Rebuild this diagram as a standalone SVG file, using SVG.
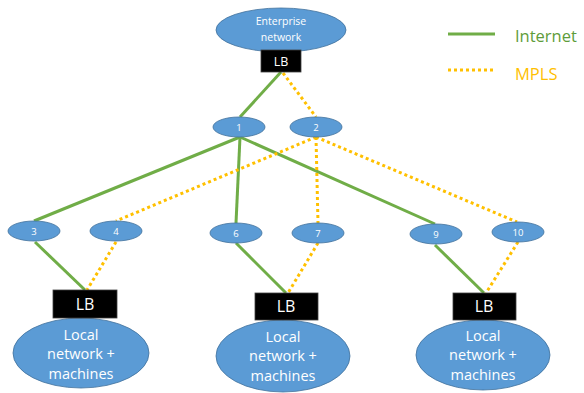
<svg xmlns="http://www.w3.org/2000/svg" width="584" height="393" viewBox="0 0 584 393">
<style>
.ell{fill:#5B9BD5;stroke:#41719C;stroke-width:0.8}
.lb{fill:#000;stroke:#404040;stroke-width:0.8}
.t{font-family:"Open Sans","Liberation Sans",sans-serif;fill:#fff;text-anchor:middle;dominant-baseline:central}
.inet{stroke:#70AD47;stroke-width:3;fill:none}
.mpls{stroke:#FFC000;stroke-width:3;fill:none;stroke-dasharray:3 3}
.leg{font-family:"Open Sans","Liberation Sans",sans-serif;font-size:16.5px;dominant-baseline:central}
</style>
<rect width="584" height="393" fill="#fff"/>
<g id="connectors">
<line class="inet" x1="281" y1="72" x2="240" y2="117"/>
<line class="mpls" x1="283" y1="73" x2="316" y2="117"/>
<line class="inet" x1="240" y1="137" x2="34" y2="221"/>
<line class="inet" x1="240" y1="137" x2="236" y2="223"/>
<line class="inet" x1="240" y1="137" x2="435" y2="224"/>
<line class="mpls" x1="316" y1="137" x2="116" y2="221"/>
<line class="mpls" x1="316" y1="137" x2="318" y2="223"/>
<line class="mpls" x1="316" y1="137" x2="517" y2="222"/>
<line class="inet" x1="35" y1="242" x2="85" y2="290"/>
<line class="mpls" x1="116" y1="242" x2="87" y2="290"/>
<line class="inet" x1="236" y1="243" x2="286" y2="293"/>
<line class="mpls" x1="318" y1="243" x2="288" y2="293"/>
<line class="inet" x1="435" y1="245" x2="484" y2="293"/>
<line class="mpls" x1="518" y1="242" x2="486" y2="293"/>
</g>
<g id="enterprise">
<ellipse class="ell" cx="281" cy="30" rx="65" ry="22"/>
<text class="t" x="281" y="21" font-size="10.5">Enterprise</text>
<text class="t" x="281" y="37" font-size="10.5">network</text>
</g>
<g id="lb-top">
<rect class="lb" x="261" y="50" width="40" height="22"/>
<text class="t" x="281" y="61" font-size="12.5">LB</text>
</g>
<g id="n1"><ellipse class="ell" cx="239" cy="127" rx="26" ry="10"/><text class="t" x="239" y="127" font-size="9.5">1</text></g>
<g id="n2"><ellipse class="ell" cx="316" cy="127" rx="26" ry="10"/><text class="t" x="316" y="127" font-size="9.5">2</text></g>
<g id="n3"><ellipse class="ell" cx="34" cy="231" rx="26" ry="10"/><text class="t" x="34" y="231" font-size="9.5">3</text></g>
<g id="n4"><ellipse class="ell" cx="116" cy="231" rx="26" ry="10"/><text class="t" x="116" y="231" font-size="9.5">4</text></g>
<g id="n6"><ellipse class="ell" cx="236" cy="233" rx="26" ry="10"/><text class="t" x="236" y="233" font-size="9.5">6</text></g>
<g id="n7"><ellipse class="ell" cx="318" cy="233" rx="26" ry="10"/><text class="t" x="318" y="233" font-size="9.5">7</text></g>
<g id="n9"><ellipse class="ell" cx="436" cy="234" rx="26" ry="10"/><text class="t" x="436" y="234" font-size="9.5">9</text></g>
<g id="n10"><ellipse class="ell" cx="518" cy="232" rx="26" ry="10"/><text class="t" x="518" y="232" font-size="9.5">10</text></g>
<g id="local-left">
<ellipse class="ell" cx="81" cy="353" rx="68" ry="35"/>
<text class="t" x="81" y="334" font-size="14.5">Local</text>
<text class="t" x="81" y="353" font-size="14.5">network +</text>
<text class="t" x="81" y="373" font-size="14.5">machines</text>
</g>
<g id="lb-left"><rect class="lb" x="53" y="290" width="64" height="28"/><text class="t" x="85" y="304" font-size="16">LB</text></g>
<g id="local-mid">
<ellipse class="ell" cx="283" cy="356" rx="67" ry="36"/>
<text class="t" x="283" y="336" font-size="14.5">Local</text>
<text class="t" x="283" y="355" font-size="14.5">network +</text>
<text class="t" x="283" y="375" font-size="14.5">machines</text>
</g>
<g id="lb-mid"><rect class="lb" x="255" y="293" width="63" height="27"/><text class="t" x="286" y="306" font-size="16">LB</text></g>
<g id="local-right">
<ellipse class="ell" cx="483" cy="355" rx="67" ry="35"/>
<text class="t" x="483" y="335" font-size="14.5">Local</text>
<text class="t" x="483" y="354" font-size="14.5">network +</text>
<text class="t" x="483" y="374" font-size="14.5">machines</text>
</g>
<g id="lb-right"><rect class="lb" x="453" y="293" width="63" height="27"/><text class="t" x="484" y="306" font-size="16">LB</text></g>
<g id="legend">
<line class="inet" x1="448" y1="34" x2="495" y2="34"/>
<text class="leg" x="515" y="35" fill="#5E9C3A">Internet</text>
<line class="mpls" x1="448" y1="70" x2="495" y2="70"/>
<text class="leg" x="515" y="73" fill="#FFC000">MPLS</text>
</g>
</svg>
